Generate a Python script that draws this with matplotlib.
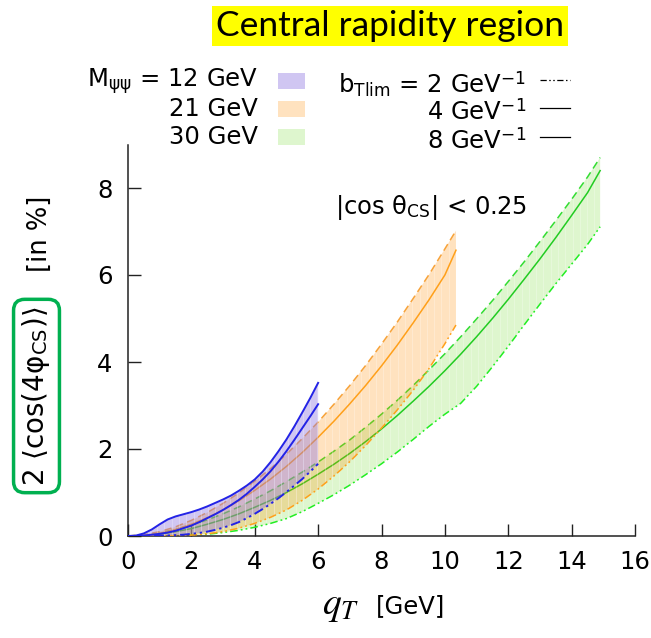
import numpy as np
import matplotlib
matplotlib.use('Agg')
import matplotlib.pyplot as plt
from matplotlib.patches import Rectangle
from matplotlib.lines import Line2D

plt.rcParams['font.family'] = ['DejaVu Sans']
plt.rcParams['mathtext.fontset'] = 'custom'
plt.rcParams['mathtext.rm'] = 'DejaVu Sans'
plt.rcParams['mathtext.sf'] = 'DejaVu Sans'
plt.rcParams['mathtext.it'] = 'STIXGeneral:italic'

# --- data: 2<cos(4phi_CS)> [%] vs q_T [GeV] for three pair masses ---
# each band: upper (bTlim = 8), middle (bTlim = 4), lower (bTlim = 2)
qt_12 = [0, 0.25, 0.5, 0.75, 1, 1.25, 1.5, 1.75, 2, 2.25, 2.5, 2.75, 3, 3.25,
         3.5, 3.75, 4, 4.25, 4.5, 4.75, 5, 5.25, 5.5, 5.75, 6]
m12_upper = [0, 0.01, 0.06, 0.15, 0.27, 0.38, 0.45, 0.50, 0.55, 0.61, 0.68, 0.76,
             0.84, 0.93, 1.04, 1.16, 1.30, 1.48, 1.70, 1.95, 2.22, 2.52, 2.84,
             3.17, 3.52]
m12_mid = [0, 0, 0.01, 0.03, 0.05, 0.08, 0.12, 0.18, 0.24, 0.32, 0.41, 0.50, 0.60,
           0.71, 0.83, 0.97, 1.13, 1.30, 1.49, 1.71, 1.95, 2.21, 2.48, 2.75, 3.03]
m12_lower = [0, 0, 0, 0, 0.01, 0.01, 0.02, 0.03, 0.05, 0.07, 0.10, 0.14, 0.19,
             0.25, 0.32, 0.41, 0.51, 0.62, 0.74, 0.87, 1.01, 1.16, 1.31, 1.48, 1.66]

qt_21 = [0, 0.5, 1, 1.5, 2, 2.5, 3, 3.5, 4, 4.5, 5, 5.5, 6, 6.5, 7, 7.5, 8, 8.5,
         9, 9.5, 10, 10.35]
m21_upper = [0, 0.03, 0.10, 0.21, 0.36, 0.54, 0.75, 0.99, 1.26, 1.55, 1.88, 2.24,
             2.62, 3.03, 3.46, 3.92, 4.41, 4.92, 5.46, 6.01, 6.60, 7.02]
m21_mid = [0, 0.01, 0.06, 0.15, 0.27, 0.42, 0.60, 0.81, 1.05, 1.31, 1.60, 1.92,
           2.27, 2.64, 3.04, 3.46, 3.91, 4.39, 4.90, 5.43, 6.00, 6.57]
m21_lower = [0, 0.0, 0.0, 0.01, 0.02, 0.05, 0.10, 0.18, 0.29, 0.43, 0.60, 0.82,
             1.08, 1.38, 1.71, 2.08, 2.48, 2.90, 3.35, 3.85, 4.42, 4.85]

qt_30 = [0, 0.5, 1, 1.5, 2, 2.5, 3, 3.5, 4, 4.5, 5, 5.5, 6, 6.5, 7, 7.5, 8, 8.5,
         9, 9.5, 10, 10.5, 11, 11.5, 12, 12.5, 13, 13.5, 14, 14.5, 14.9]
m30_upper = [0, 0.02, 0.07, 0.15, 0.25, 0.37, 0.51, 0.67, 0.85, 1.04, 1.25, 1.47,
             1.70, 1.95, 2.21, 2.50, 2.80, 3.12, 3.46, 3.82, 4.19, 4.58, 4.99,
             5.41, 5.85, 6.30, 6.77, 7.25, 7.74, 8.25, 8.70]
m30_mid = [0, 0.01, 0.04, 0.10, 0.17, 0.27, 0.38, 0.51, 0.66, 0.82, 1.00, 1.20,
           1.42, 1.65, 1.90, 2.17, 2.46, 2.77, 3.10, 3.44, 3.80, 4.18, 4.58,
           5.00, 5.44, 5.90, 6.37, 6.86, 7.37, 7.89, 8.40]
m30_lower = [0, 0.0, 0.0, 0.01, 0.02, 0.04, 0.08, 0.13, 0.20, 0.29, 0.40, 0.56,
             0.75, 0.95, 1.17, 1.41, 1.66, 1.93, 2.22, 2.52, 2.80, 3.05, 3.44,
             3.89, 4.36, 4.85, 5.33, 5.80, 6.25, 6.70, 7.11]

mass_labels = ['12 GeV', '21 GeV', '30 GeV']
btlim_labels = ['2', '4', '8']
x_ticks = [0, 2, 4, 6, 8, 10, 12, 14, 16]
y_ticks = [0, 2, 4, 6, 8]

W, H = 651, 638
FS = 17.5


def fx(px):
    return px / W


def fy(py):
    return 1 - py / H


DASH = (0, (5, 3))
DASHDOTDOT = (0, (5, 2, 1.2, 2, 1.2, 2))

bands = [
    # qt, upper, mid, lower, fill, fill alpha, line colours, upper style, z
    (qt_30, m30_upper, m30_mid, m30_lower, '#7fdd3f', 0.25,
     ('#33dd33', '#22cc22', '#22ee22'), DASH, 1),
    (qt_21, m21_upper, m21_mid, m21_lower, '#ff8c00', 0.25,
     ('#f7a33a', '#ffa01a', '#ffa01a'), DASH, 3),
    (qt_12, m12_upper, m12_mid, m12_lower, '#8f78e0', 0.42,
     ('#2323e6', '#2323e6', '#2323e6'), '-', 5),
]

fig = plt.figure(figsize=(W / 100, H / 100), dpi=100)
ax = fig.add_axes([fx(128), fy(536), fx(635) - fx(128), fy(144.5) - fy(536)])

for qt, up, mid, lo, fc, alpha, lcols, upstyle, z in bands:
    qt = np.array(qt)
    up = np.array(up)
    lo = np.array(lo)
    ax.fill_between(qt, lo, up, facecolor=fc, alpha=alpha, linewidth=0, zorder=z)
    # faint vertical seams inside the filled band
    xs = np.arange(0.23, qt[-1], 0.23)
    ax.vlines(xs, np.interp(xs, qt, lo), np.interp(xs, qt, up), colors='white',
              linewidth=0.6, alpha=0.3, zorder=z)
    lw = 1.4 if z == 5 else 1.1
    ax.plot(qt, up, color=lcols[0], linestyle=upstyle, lw=lw, zorder=z + 0.5)
    ax.plot(qt, mid, color=lcols[1], linestyle='-', lw=lw, zorder=z + 0.5)
    ax.plot(qt, lo, color=lcols[2], linestyle=DASHDOTDOT, lw=lw, zorder=z + 0.5)

ax.set_xlim(0, 16)
ax.set_ylim(0, 9)
ax.set_xticks(x_ticks)
ax.set_yticks(y_ticks)
ax.set_axisbelow(True)
for side in ['top', 'right']:
    ax.spines[side].set_visible(False)
for side in ['left', 'bottom']:
    ax.spines[side].set_color('#222222')
    ax.spines[side].set_linewidth(1.1)
ax.tick_params(axis='both', direction='in', length=9, width=1.0, color='#222222',
               labelsize=FS)
ax.tick_params(axis='x', pad=10)
ax.tick_params(axis='y', pad=11)

ax.text(9.56, 7.56, r'|cos θ$_{\rm CS}$| < 0.25', fontsize=FS, ha='center', va='center')

# axis titles
fig.text(fx(341), fy(606), r'$q_T$', fontsize=27, ha='center', va='center')
fig.text(fx(411), fy(606), '[GeV]', fontsize=FS, ha='center', va='center')
fig.text(fx(36.5), fy(396), r'2 ⟨cos(4φ$_{\rm CS}$)⟩', fontsize=20, rotation=90,
         ha='center', va='center',
         bbox=dict(boxstyle='round,pad=0.25,rounding_size=0.4', facecolor='white',
                   edgecolor='#00b050', linewidth=2.5))
fig.text(fx(40), fy(234), '[in %]', fontsize=18.5, rotation=90, ha='center', va='center')

# heading
fig.text(fx(390), fy(26), 'Central rapidity region', fontsize=25.5, family='Lato',
         ha='center', va='center',
         bbox=dict(boxstyle='square,pad=0.1', facecolor='#ffff00', edgecolor='none'))

# legend: mass bands
swatch_cols = [('#8f78e0', 0.42), ('#ff8c00', 0.25), ('#7fdd3f', 0.25)]
rows_left = [81, 109, 137]
for i, (lab, (c, a), py) in enumerate(zip(mass_labels, swatch_cols, rows_left)):
    txt = r'M$_{\rm ψψ}$ = ' + lab if i == 0 else lab
    fig.text(fx(258), fy(py), txt, fontsize=FS, ha='right', va='center')
    fig.patches.append(Rectangle((fx(278), fy(py + 8)), fx(27), 16 / H,
                                 transform=fig.transFigure, facecolor=c, alpha=a,
                                 edgecolor='none'))

# legend: bTlim line styles
rows_right = [84, 112, 141]
styles = [DASHDOTDOT, '-', '-']
for i, (lab, ls, py) in enumerate(zip(btlim_labels, styles, rows_right)):
    txt = lab + r' $\mathrm{GeV}^{-1}$'
    if i == 0:
        txt = r'b$_{\rm Tlim}$ = ' + txt
    fig.text(fx(526), fy(py), txt, fontsize=FS, ha='right', va='center')
    fig.lines.append(Line2D([fx(540), fx(570)], [fy(py - 4), fy(py - 4)],
                            transform=fig.transFigure, color='black', lw=0.9,
                            linestyle=ls))

fig.savefig('out.png', dpi=100)
